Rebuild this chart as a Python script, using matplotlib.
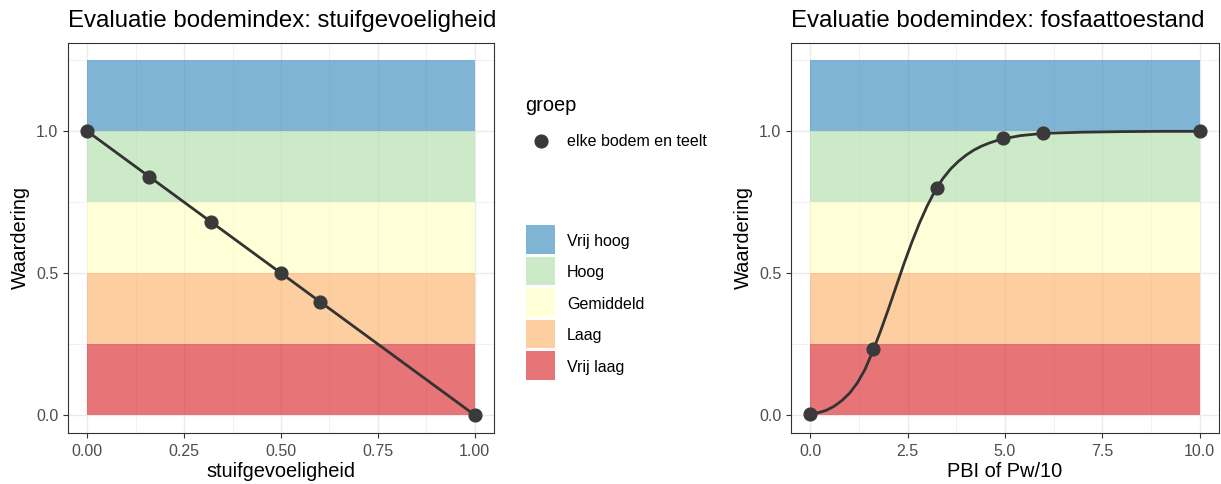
import matplotlib
matplotlib.use("Agg")
import matplotlib.pyplot as plt
from matplotlib.patches import Rectangle

plt.rcParams['font.family'] = ['Liberation Sans', 'DejaVu Sans']

# ---- data ----
band_labels = ["Vrij hoog", "Hoog", "Gemiddeld", "Laag", "Vrij laag"]
band_colors = ["#2B83BA", "#ABDDA4", "#FFFFBF", "#FDAE61", "#D7191C"]
band_lo = [1.0, 0.75, 0.5, 0.25, 0.0]
band_hi = [1.25, 1.0, 0.75, 0.5, 0.25]

left_title = "Evaluatie bodemindex: stuifgevoeligheid"
left_xlabel = "stuifgevoeligheid"
left_x = [0.0, 0.16, 0.32, 0.50, 0.60, 1.0]
left_y = [1.0, 0.84, 0.68, 0.50, 0.40, 0.0]
left_xticks = [0.0, 0.25, 0.5, 0.75, 1.0]
left_xticklabels = ["0.00", "0.25", "0.50", "0.75", "1.00"]

right_title = "Evaluatie bodemindex: fosfaattoestand"
right_xlabel = "PBI of Pw/10"
right_pts_x = [0.0, 1.6, 3.25, 4.95, 5.97, 10.0]
right_pts_y = [0.004, 0.232, 0.80, 0.975, 0.993, 1.0]
right_curve_x = [0.0, 0.2, 0.4, 0.6, 0.8, 1.0, 1.2, 1.4, 1.6, 1.8, 2.0, 2.2,
                 2.4, 2.6, 2.8, 3.0, 3.2, 3.4, 3.6, 3.8, 4.0, 4.2, 4.4, 4.6,
                 4.8, 5.0, 5.4, 6.0, 7.0, 8.0, 9.0, 10.0]
right_curve_y = [0.004, 0.008, 0.016, 0.030, 0.050, 0.076, 0.112, 0.160,
                 0.224, 0.295, 0.372, 0.452, 0.532, 0.607, 0.676, 0.737,
                 0.790, 0.833, 0.867, 0.894, 0.916, 0.934, 0.948, 0.959,
                 0.968, 0.975, 0.985, 0.993, 0.997, 0.999, 1.0, 1.0]
right_xticks = [0.0, 2.5, 5.0, 7.5, 10.0]
right_xticklabels = ["0.0", "2.5", "5.0", "7.5", "10.0"]

yticks = [0.0, 0.5, 1.0]
yticklabels = ["0.0", "0.5", "1.0"]
ylabel = "Waardering"
group_title = "groep"
group_label = "elke bodem en teelt"

# ---- style ----
W, H = 1221, 484
fig = plt.figure(figsize=(W / 100, H / 100), dpi=100)
ALPHA = 0.6
DARK = "#333333"
PT = "#3a3a3a"
F_TICK = 11.5
F_AXT = 14.4
F_TITLE = 17.3


def px_axes(x0, x1, ytop, ybot):
    return [x0 / W, 1 - ybot / H, (x1 - x0) / W, (ybot - ytop) / H]


def style_axes(ax, xmin, xmax, xticks, xticklabels, minor_x, title, xlabel):
    rng = xmax - xmin
    ax.set_xlim(xmin - 0.05 * rng, xmax + 0.05 * rng)
    ax.set_ylim(-0.0625, 1.3125)
    ax.set_xticks(xticks)
    ax.set_xticklabels(xticklabels)
    ax.set_xticks(minor_x, minor=True)
    ax.set_yticks(yticks)
    ax.set_yticklabels(yticklabels)
    ax.set_yticks([0.25, 0.75, 1.25], minor=True)
    ax.set_axisbelow(True)
    ax.grid(which="major", color="#EBEBEB", linewidth=1.0)
    ax.grid(which="minor", color="#EBEBEB", linewidth=0.5)
    ax.tick_params(which="major", length=3.6, width=0.8, color="#333333",
                   labelsize=F_TICK, labelcolor="#4D4D4D")
    ax.tick_params(axis="x", which="major", pad=4.5)
    ax.tick_params(axis="y", which="major", pad=3.5)
    ax.tick_params(which="minor", length=0)
    for s in ax.spines.values():
        s.set_color("#333333")
        s.set_linewidth(0.8)
    ax.set_title(title, loc="left", fontsize=F_TITLE, color="black", pad=11.5)
    ax.set_xlabel(xlabel, fontsize=F_AXT, labelpad=2.2)
    ax.set_ylabel(ylabel, fontsize=F_AXT, labelpad=4)
    for lo, hi, c in zip(band_lo, band_hi, band_colors):
        ax.fill_between([xmin, xmax], [lo, lo], [hi, hi], color=c,
                        alpha=ALPHA, linewidth=0, zorder=1)


ax1 = fig.add_axes(px_axes(68, 494, 42.7, 432.7))
style_axes(ax1, 0.0, 1.0, left_xticks, left_xticklabels,
           [0.125, 0.375, 0.625, 0.875], left_title, left_xlabel)
ax1.plot(left_x, left_y, color=DARK, linewidth=2.0, zorder=3,
         solid_capstyle="round")
ax1.plot(left_x, left_y, linestyle="none", marker="o", markersize=9.2,
         color=PT, zorder=4)

ax2 = fig.add_axes(px_axes(791, 1219, 42.7, 432.7))
style_axes(ax2, 0.0, 10.0, right_xticks, right_xticklabels,
           [1.25, 3.75, 6.25, 8.75], right_title, right_xlabel)
ax2.plot(right_curve_x, right_curve_y, color=DARK, linewidth=2.0, zorder=3,
         solid_capstyle="round", solid_joinstyle="round")
ax2.plot(right_pts_x, right_pts_y, linestyle="none", marker="o",
         markersize=9.2, color=PT, zorder=4)

# ---- legends (drawn in pixel coordinates on an overlay) ----
lax = fig.add_axes([0, 0, 1, 1], facecolor="none")
lax.set_xlim(0, W)
lax.set_ylim(H, 0)
lax.axis("off")

lax.text(525, 111, group_title, fontsize=F_AXT, color="black", va="baseline",
         ha="left")
lax.plot([540.5], [140.5], linestyle="none", marker="o", markersize=9.2,
         color=PT)
lax.text(567, 146, group_label, fontsize=F_TICK, color="black",
         va="baseline", ha="left")

box_top = 225.0
pitch = 31.5
box = 28.5
for i, (lab, c) in enumerate(zip(band_labels, band_colors)):
    y0 = box_top + i * pitch
    lax.add_patch(Rectangle((526, y0), 29, box, facecolor=c, alpha=ALPHA,
                            edgecolor="none"))
    lax.text(567, y0 + box / 2 + 6.5, lab, fontsize=F_TICK, color="black",
             va="baseline", ha="left")

fig.savefig("out.png", dpi=100)
